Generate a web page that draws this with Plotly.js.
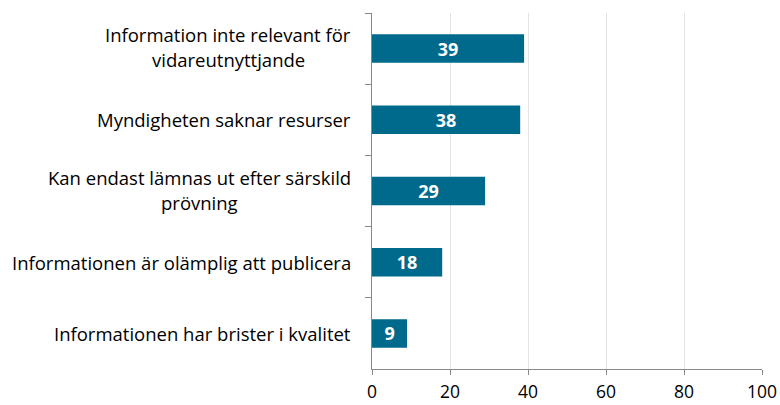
<!DOCTYPE html>
<html><head><meta charset="utf-8">
<script src="https://cdn.plot.ly/plotly-3.0.1.min.js"></script>
<style>html,body{margin:0;padding:0;background:#fff}</style>
</head><body><div id="chart" style="width:780px;height:405px"></div>
<script>
const categories = [
  "Information inte relevant för<br>vidareutnyttjande",
  "Myndigheten saknar resurser",
  "Kan endast lämnas ut efter särskild<br>prövning",
  "Informationen är olämplig att publicera",
  "Informationen har brister i kvalitet"
];
const values = [39, 38, 29, 18, 9];
const xTicks = [0, 20, 40, 60, 80, 100];

const font = "'Open Sans', sans-serif";
const labelSize = 18.5;
const trace = {
  type: 'bar', orientation: 'h',
  x: values, y: categories,
  width: 0.4,
  marker: {color: '#006A8C'},
  text: values.map(String),
  textposition: 'inside', insidetextanchor: 'middle',
  textangle: 0, constraintext: 'none',
  textfont: {color: '#ffffff', size: 18, family: font, weight: 'bold'},
  hoverinfo: 'skip'
};
const annotations = [];
categories.forEach(c => {
  const lines = c.split('<br>');
  const n = lines.length;
  lines.forEach((ln, i) => {
    annotations.push({
      xref: 'paper', yref: 'y', x: 0, y: c, xanchor: 'center', yanchor: 'middle',
      xshift: 0, text: ln, showarrow: false,
      yshift: ((n - 1) / 2 - i) * 25 + (n > 1 ? 1.5 : 0),
      font: {family: font, size: labelSize, color: '#000'},
      _line: ln
    });
  });
});
const layout = {
  width: 780, height: 405,
  margin: {l: 372, r: 18, t: 13, b: 36},
  paper_bgcolor: '#fff', plot_bgcolor: '#fff',
  showlegend: false,
  font: {family: font, size: 16, color: '#000'},
  xaxis: {
    range: [0, 100], tickvals: xTicks, ticktext: xTicks.map(String),
    showgrid: true, gridcolor: '#e3e3e3', gridwidth: 1,
    zeroline: false, showline: true, linecolor: '#888', linewidth: 1,
    ticks: 'outside', ticklen: 5, tickcolor: '#888', ticklabelstandoff: 2,
    tickfont: {family: font, size: 17.5, color: '#000'}, fixedrange: true
  },
  yaxis: {
    type: 'category', categoryorder: 'array', categoryarray: categories,
    autorange: 'reversed', showticklabels: false,
    showline: true, linecolor: '#888', linewidth: 1,
    ticks: 'outside', tickson: 'boundaries', ticklen: 6, tickcolor: '#888',
    showgrid: false, zeroline: false, fixedrange: true
  }
};
const meas = document.createElement('canvas').getContext('2d');
document.fonts.load(labelSize + "px 'Open Sans'").then(() => {
  meas.font = labelSize + "px 'Open Sans'";
  const widest = {};
  annotations.forEach(a => {
    const w = meas.measureText(a._line).width;
    widest[a.y] = Math.max(widest[a.y] || 0, w);
  });
  annotations.forEach(a => {
    a.xshift = -21 - widest[a.y] / 2;
    delete a._line;
  });
  layout.annotations = annotations;
  Plotly.newPlot('chart', [trace], layout, {displayModeBar: false, staticPlot: true});
});
</script></body></html>
